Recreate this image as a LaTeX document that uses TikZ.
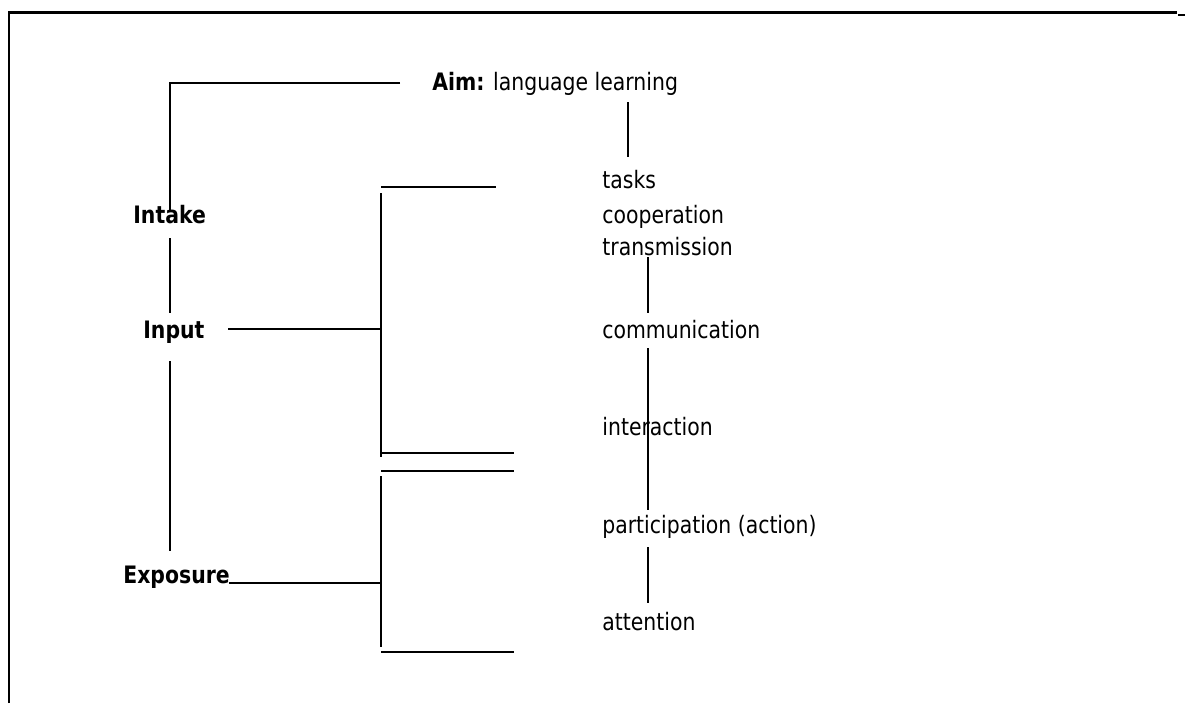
\documentclass[tikz,border=0pt]{standalone}
\usepackage{fontspec}
\setmainfont{DejaVu Sans}[FakeStretch=0.85]
\begin{document}
\begin{tikzpicture}[x=0.5pt,y=-0.5pt,
  rule/.style={line width=1.3pt,line cap=butt},
  term/.style={inner sep=0pt,anchor=base west,font=\fontsize{12}{14}\selectfont},
  stage/.style={term,font=\fontsize{12}{14}\selectfont\bfseries}]
\useasboundingbox (0,0) rectangle (1185,703);

% outer frame (left and top edges only)
\coordinate (fbl) at (9,703);
\coordinate (ftl) at (9,12.5);
\coordinate (ftr) at (1177,12.5);
\coordinate (tk1) at (1178,15);
\coordinate (tk2) at (1185,15);
\draw[rule] (fbl) -- (ftl) -- (ftr);
\draw[rule] (tk1) -- (tk2);

% aim
\node[term] (aim) at (432,90) {\textbf{Aim:} language learning};

% left column
\node[stage] (intake) at (133,223) {Intake};
\node[stage] (input) at (143,338) {Input};
\node[stage] (exposure) at (123,583) {Exposure};

% right column
\node[term] (tasks) at (602,188) {tasks};
\node[term] (coop) at (602,223) {cooperation};
\node[term] (trans) at (602,255) {transmission};
\node[term] (comm) at (602,338) {communication};
\node[term] (inter) at (602,435) {interaction};
\node[term] (part) at (602,533) {participation (action)};
\node[term] (att) at (602,630) {attention};

% left spine
\coordinate (a0) at (400,83);
\coordinate (a1) at (170,83);
\coordinate (a2) at (170,210);
\draw[rule] (a0) -- (a1) -- (a2);
\coordinate (b1) at (170,238);
\coordinate (b2) at (170,313);
\draw[rule] (b1) -- (b2);
\coordinate (c1) at (170,361);
\coordinate (c2) at (170,551);
\draw[rule] (c1) -- (c2);

% aim down-stroke
\coordinate (d1) at (628,102);
\coordinate (d2) at (628,157);
\draw[rule] (d1) -- (d2);

% upper bracket (input)
\coordinate (i0) at (228,329);
\coordinate (i1) at (381,329);
\draw[rule] (i0) -- (i1);
\coordinate (u1) at (381,187);
\coordinate (u2) at (496,187);
\draw[rule] (u1) -- (u2);
\coordinate (u3) at (381,193);
\coordinate (u4) at (381,457);
\draw[rule] (u3) -- (u4);
\coordinate (u5) at (381,453);
\coordinate (u6) at (514,453);
\draw[rule] (u5) -- (u6);

% lower bracket (exposure)
\coordinate (e0) at (229,583);
\coordinate (e1) at (381,583);
\draw[rule] (e0) -- (e1);
\coordinate (l1) at (381,471);
\coordinate (l2) at (514,471);
\draw[rule] (l1) -- (l2);
\coordinate (l3) at (381,476);
\coordinate (l4) at (381,647);
\draw[rule] (l3) -- (l4);
\coordinate (l5) at (381,652);
\coordinate (l6) at (514,652);
\draw[rule] (l5) -- (l6);

% right spine
\coordinate (r1) at (648,257);
\coordinate (r2) at (648,313);
\draw[rule] (r1) -- (r2);
\coordinate (r3) at (648,348);
\coordinate (r4) at (648,510);
\draw[rule] (r3) -- (r4);
\coordinate (r5) at (648,547);
\coordinate (r6) at (648,603);
\draw[rule] (r5) -- (r6);
\end{tikzpicture}
\end{document}
